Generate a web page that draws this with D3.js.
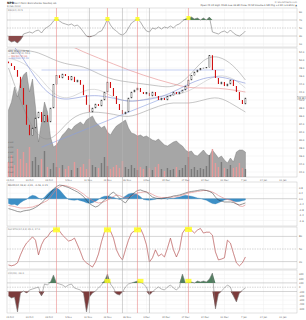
<!DOCTYPE html>
<html>
<head>
<meta charset="utf-8">
<script src="https://cdn.jsdelivr.net/npm/d3@7"></script>
<style>
  body { margin: 0; background: #fff; }
  svg { display: block; font-family: "DejaVu Sans", sans-serif; }
</style>
</head>
<body>
<svg id="chart" width="306" height="320"></svg>
<script>
// ---- data ----
var xLabels = ["15 Oct","22 Oct","29 Oct","5 Nov","12 Nov","19 Nov","26 Nov","3 Dec","10 Dec","17 Dec","24 Dec","31 Dec","7 Jan","14 Jan","21 Jan"];

var close = [49.2,48.5,47.5,45.8,43,38.8,33.8,31.2,33,35.5, 37,34.5,36.2,34.5,38,43.8,46.2,45.5,46.5,46,
             45,45.8,44.5,45,43.8,41.2,38.8,37,38,39, 38.5,40,42,44.5,43,41,39,37.5,36.5,37,
             40.5,42,42.5,43,42,41.5,41.8,41,42,41, 40,40.5,40,40.8,41.2,42,41.5,41.8,42.5,43.5,
             45,46.2,47,47.5,47.8,48,48.2,51.2,47.5,45.5, 44,44.5,43.5,44,45,43.5,42,40,39,40.5];

var volume = [6.7,7.5,9,8,9.5,10.2,10.5,8.5,9.8,7, 3.5,5.5,7.5,6.5,4,3,3.2,3.7,4.2,4.5,
              4.9,4.7,5.1,5.3,5.5,5.2,5.7,5.9,6.1,5.5, 5.2,4.9,5.1,4.5,4.2,4.7,5.1,5.3,5.5,5.7,
              4.9,4.4,4.3,4.1,4.2,4.0,4.1,3.9,3.7,3.6, 3.8,3.5,3.2,3.1,3.3,3.5,3.6,3.3,3.1,2.7,
              2.5,2.6,2.2,2.1,2.4,2.7,2.3,2.1,2.7,2.3, 1.9,2.1,1.7,1.4,1.9,1.5,2.5,2.7,2.7,2.5];

var dailyVol = [1.5,2.2,1.2,2.8,1.8,2.5,1.4,3.0,1.6,2.0, 1.2,1.8,2.6,1.0,0.8,1.4,1.0,0.9,1.2,0.8,
                1.1,0.7,1.5,0.9,1.0,1.3,0.8,1.8,1.2,1.0, 0.9,1.4,2.0,1.1,0.8,1.0,1.2,0.9,1.6,1.0,
                0.8,1.2,0.9,0.7,1.0,0.8,1.1,0.9,0.7,1.0, 1.3,0.8,0.6,0.9,0.7,0.8,1.0,0.7,0.9,1.2,
                2.0,0.8,1.0,0.7,0.9,0.8,1.1,2.2,2.8,1.4, 1.0,1.5,0.9,0.8,1.2,0.9,1.0,1.4,0.9,0.8];

// smooth overlays, given at every 5th bar
var knotIdx = [0,5,10,15,20,25,30,35,40,45,50,55,60,65,70,75,79];
var bbUpper = [52.5,52.5,52,50,48.8,48.5,46.5,45,44.5,44,43.5,43,45.5,50.5,51.2,48.8,45];
var bbMid   = [50.5,49.5,46.2,41.2,40,42.5,43,40.5,39.5,40,41,41.2,42,44.5,46.5,45.5,43];
var bbLower = [48,37.5,30,30,35,37,37,36.5,35.5,37,38.5,39.5,39,40,41,38.8,37];
var maBlue  = [55,50.5,44,40.5,40,41,41.2,40.5,39.5,40,40.5,42,44,45.5,46,45,44.2];
var maRed   = [60,58.5,57,55.5,53.8,52,50.5,49,47.5,46.2,45,44,43,43,43,42.5,42];
var trendIdx = [11, 60], trendVal = [28.2, 43];
var levelIdx = [11, 72], levelVal = [47.5, 47.5];

var rsi = [20,15,17.5,12.5,20,35,37.5,40,37.5,42.5, 45,37.5,47.5,52.5,57.5,67.5,72.5,67.5,62.5,60,
           57.5,60,55,57.5,50,40,30,27.5,30,32.5, 40,42.5,55,72.5,57.5,47.5,42.5,35,32.5,37.5,
           50,62.5,67.5,72.5,65,52.5,42.5,40,50,47.5, 52.5,47.5,52.5,50,55,50,57.5,60,67.5,72.5,
           75,77.5,72.5,75,70,75,70,77.5,40,37.5, 35,40,42.5,37.5,45,37.5,32.5,30,35,42.5];

var macd = [-0.72,-0.79,-0.86,-0.94,-0.97,-0.9,-0.86,-0.83,-0.75,-0.64, -0.5,-0.31,-0.1,0.16,0.42,0.71,0.89,1,0.97,0.89,
            0.82,0.71,0.6,0.49,0.34,0.16,-0.1,-0.35,-0.5,-0.61, -0.53,-0.31,-0.1,0.09,0.34,0.49,0.27,0.05,-0.17,-0.31,
            -0.02,0.27,0.45,0.6,0.64,0.56,0.49,0.31,0.12,0.05, 0.01,0.01,0.05,0.09,0.12,0.2,0.23,0.27,0.34,0.42,
            0.49,0.53,0.56,0.6,0.64,0.64,0.6,0.53,0.42,0.12, -0.1,-0.17,-0.24,-0.24,-0.24,-0.28,-0.39,-0.46,-0.39,-0.31];
var signal = [-0.5,-0.53,-0.57,-0.64,-0.68,-0.68,-0.67,-0.64,-0.61,-0.53, -0.46,-0.35,-0.24,-0.13,0.12,0.42,0.71,0.86,0.97,0.97,
              0.89,0.82,0.75,0.64,0.49,0.34,0.16,0.01,-0.13,-0.24, -0.31,-0.28,-0.21,-0.1,0.01,0.16,0.27,0.23,0.12,0.05,
              0.09,0.2,0.31,0.42,0.45,0.49,0.49,0.42,0.31,0.2, 0.12,0.09,0.09,0.09,0.12,0.12,0.16,0.2,0.27,0.34,
              0.42,0.45,0.49,0.53,0.56,0.6,0.6,0.56,0.49,0.38, 0.23,0.12,0.01,-0.06,-0.1,-0.21,-0.35,-0.53,-0.57,-0.46];
var hist = [-0.35,-0.45,-0.4,-0.5,-0.3,-0.15,-0.05,0.15,0.25,0.2, 0.05,-0.05,0.1,0.35,0.55,0.7,0.8,0.65,0.4,0.15,
            -0.05,-0.1,-0.12,-0.08,-0.15,-0.2,-0.3,-0.35,-0.3,-0.2, -0.05,0.1,0.18,0.2,0.15,0.1,0.02,-0.05,0.05,0.2,
            0.35,0.4,0.38,0.3,0.15,-0.05,-0.1,-0.12,-0.08,-0.04, 0.03,-0.03,0.05,-0.04,0.04,0.02,0.08,0.12,0.2,0.25,
            0.22,0.18,0.12,0.06,0.02,-0.05,-0.12,-0.25,-0.35,-0.38, -0.3,-0.2,-0.1,-0.05,-0.1,-0.18,-0.22,-0.2,-0.15,-0.1];

var stoch = [12,10,12,17,36,52,64,71,79,71, 36,60,74,79,90,95,98,93,83,76,
             69,71,76,60,43,24,17,12,7,19, 38,67,90,98,93,76,48,33,24,48,
             71,88,93,98,99,83,60,19,29,48, 33,38,31,52,76,48,31,48,88,98,
             99,95,88,95,99,88,90,90,83,43, 24,26,29,71,64,40,17,10,17,31];

var cci = [-205,-251,-228,-577,-135,-88,-135,-65,-42,-19, 5,-205,74,51,121,284,98,74,51,5,
           51,74,-19,-42,-65,-135,-577,-228,-135,-88, -19,51,144,307,74,-19,-158,-181,-112,5,
           74,98,121,144,121,74,5,-181,-112,-42, 5,-42,-65,5,51,-19,-65,5,307,98,
           121,121,98,144,121,144,121,191,330,-507, -158,-88,-19,51,5,-205,-344,-135,-65,-19];

var signalIdx = [16, 33, 43, 60];   // red verticals + yellow marks
var grayIdx = [27, 38, 47];
var cciMarkIdx = [33, 44, 60];

// ---- layout ----
var svg = d3.select('#chart');
var L = 7, R = 297;
var x = d3.scaleLinear().domain([-0.5, 96.2]).range([L, R]);
var idx = d3.range(close.length);

var panels = [
  { top: 8, bottom: 47 },
  { top: 48, bottom: 177 },
  { top: 182, bottom: 226 },
  { top: 227, bottom: 269 },
  { top: 270, bottom: 313 }
];

var defs = svg.append('defs');
panels.forEach(function(p, k) {
  defs.append('clipPath').attr('id', 'clip' + k)
    .append('rect').attr('x', L).attr('y', p.top).attr('width', R - L).attr('height', p.bottom - p.top);
});

function label(t, px, py, opts) {
  opts = opts || {};
  return svg.append('text').attr('x', px).attr('y', py).text(t)
    .attr('font-size', opts.size || 2.7)
    .attr('fill', opts.fill || '#555')
    .attr('font-weight', opts.bold ? 'bold' : null)
    .attr('text-anchor', opts.anchor || 'start');
}

function hline(g, y, color, dash) {
  g.append('line').attr('x1', L).attr('x2', R).attr('y1', y).attr('y2', y)
    .attr('stroke', color).attr('stroke-width', 0.5)
    .attr('stroke-dasharray', dash ? '1.5,1' : null);
}

// panel frames and vertical grid
var xTickPos = xLabels.map(function(d, k) { return 0.5 + 6.5 * k; });
panels.forEach(function(p) {
  svg.append('rect').attr('x', L).attr('y', p.top).attr('width', R - L).attr('height', p.bottom - p.top)
    .attr('fill', '#fff').attr('stroke', '#c4c4c4').attr('stroke-width', 0.5);
  xTickPos.forEach(function(t) {
    svg.append('line').attr('x1', x(t)).attr('x2', x(t)).attr('y1', p.top).attr('y2', p.bottom)
      .attr('stroke', '#ececec').attr('stroke-width', 0.5);
  });
});

// ---- panel 1: RSI ----
var yR = d3.scaleLinear().domain([0, 100]).range([48, 8]);
var g1 = svg.append('g').attr('clip-path', 'url(#clip0)');
[90, 10].forEach(function(v) { hline(g1, yR(v), '#eaeaea'); });
hline(g1, yR(70), '#aaa'); hline(g1, yR(30), '#aaa'); hline(g1, yR(50), '#aaa', true);
g1.append('path').datum(idx).attr('fill', '#8a4a4a')
  .attr('d', d3.area().x(function(i) { return x(i); }).y0(yR(30)).y1(function(i) { return yR(Math.min(rsi[i], 30)); }));
g1.append('path').datum(idx).attr('fill', '#4f7f5a')
  .attr('d', d3.area().x(function(i) { return x(i); }).y0(yR(70)).y1(function(i) { return yR(Math.max(rsi[i], 70)); }));
g1.append('path').datum(idx).attr('fill', 'none').attr('stroke', '#7a7a7a').attr('stroke-width', 0.6)
  .attr('d', d3.line().x(function(i) { return x(i); }).y(function(i) { return yR(rsi[i]); }));
[90, 70, 50, 30, 10].forEach(function(v) { label(v, 299, yR(v) + 1, { size: 2.5 }); });

// ---- panel 2: price + volume ----
var yP = d3.scaleLinear().domain([20.75, 53]).range([177, 48]);
var yV = d3.scaleLinear().domain([0, 12]).range([177, 57]);
var g2 = svg.append('g').attr('clip-path', 'url(#clip1)');
var priceTicks = d3.range(22, 53, 2);
priceTicks.forEach(function(v) { hline(g2, yP(v), '#efefef'); });

g2.append('path').datum(idx).attr('fill', '#a6a6a6').attr('stroke', '#707070').attr('stroke-width', 0.4)
  .attr('d', d3.area().x(function(i) { return x(i); }).y0(yV(0)).y1(function(i) { return yV(volume[i]); }));

g2.selectAll('.vbar').data(idx).enter().append('rect')
  .attr('x', function(i) { return x(i) - 0.7; })
  .attr('width', 1.4)
  .attr('y', function(i) { return yV(dailyVol[i]); })
  .attr('height', function(i) { return yV(0) - yV(dailyVol[i]); })
  .attr('fill', function(i) { return i > 0 && close[i] >= close[i - 1] ? '#7a7a7a' : '#e59a9a'; });

function knotLine(vals, color, w) {
  g2.append('path').datum(knotIdx).attr('fill', 'none').attr('stroke', color).attr('stroke-width', w)
    .attr('d', d3.line().curve(d3.curveBasis)
      .x(function(i) { return x(i); })
      .y(function(i, k) { return yP(vals[k]); }));
}
knotLine(bbUpper, '#8c8c8c', 0.5);
knotLine(bbLower, '#8c8c8c', 0.5);
knotLine(bbMid, '#b8b8b8', 0.5);
knotLine(maRed, '#e58a8a', 0.6);
knotLine(maBlue, '#7d8fd6', 0.6);

g2.append('line').attr('x1', x(trendIdx[0])).attr('x2', x(trendIdx[1]))
  .attr('y1', yP(trendVal[0])).attr('y2', yP(trendVal[1]))
  .attr('stroke', '#8aa0e0').attr('stroke-width', 0.6);
g2.append('line').attr('x1', x(levelIdx[0])).attr('x2', x(levelIdx[1]))
  .attr('y1', yP(levelVal[0])).attr('y2', yP(levelVal[1]))
  .attr('stroke', '#9db0ea').attr('stroke-width', 0.6);

// candles: body from previous close to close (up = hollow black, down = red)
function openOf(i) { return i > 0 ? close[i - 1] : close[0] + 0.4; }
g2.selectAll('.candle').data(idx).enter().append('rect')
  .attr('x', function(i) { return x(i) - 0.55; })
  .attr('width', 1.1)
  .attr('y', function(i) { return yP(Math.max(openOf(i), close[i])); })
  .attr('height', function(i) { return Math.max(0.8, Math.abs(yP(openOf(i)) - yP(close[i]))); })
  .attr('fill', function(i) { return close[i] >= openOf(i) ? '#fff' : '#d01010'; })
  .attr('stroke', function(i) { return close[i] >= openOf(i) ? '#222' : 'none'; })
  .attr('stroke-width', 0.35);

priceTicks.forEach(function(v) { label(v.toFixed(1), 299, yP(v) + 1, { size: 2.4 }); });
[0.5, 1, 1.5, 2, 2.5, 3, 3.5].forEach(function(v) { label(v.toFixed(1) + 'M', 8, yV(v) + 1, { size: 2.2, fill: '#666' }); });

// last value tag
svg.append('rect').attr('x', 297.5).attr('y', yP(close[79]) - 1.6).attr('width', 8).attr('height', 3.2)
  .attr('fill', '#fff').attr('stroke', '#888').attr('stroke-width', 0.3);
label(close[79].toFixed(2), 298, yP(close[79]) + 0.9, { size: 2.3, fill: '#222' });

// legend
label('NPR (Daily) 40.50', 8, 51.5, { size: 2.4, fill: '#444' });
label('\u2014 BB(20,2.0) 43.0', 8, 54, { size: 2.4, fill: '#777' });
label('\u2014 MA(50) 42.00', 8, 56.5, { size: 2.4, fill: '#d06060' });
label('\u2014 MA(200) 44.20', 8, 59, { size: 2.4, fill: '#6a7fd0' });

// ---- panel 3: MACD ----
var yM = d3.scaleLinear().domain([-2, 1.15]).range([226, 183]);
var g3 = svg.append('g').attr('clip-path', 'url(#clip2)');
[-1.6, -1.2, -0.8, -0.4, 0.4, 0.8].forEach(function(v) { hline(g3, yM(v), '#efefef'); });
hline(g3, yM(0), '#a8a8a8');
g3.append('path').datum(idx).attr('fill', '#3d8fc6').attr('stroke', '#2f7fb5').attr('stroke-width', 0.3)
  .attr('d', d3.area().x(function(i) { return x(i); }).y0(yM(0)).y1(function(i) { return yM(hist[i]); }));
g3.append('path').datum(idx).attr('fill', 'none').attr('stroke', '#e08080').attr('stroke-width', 0.6)
  .attr('d', d3.line().x(function(i) { return x(i); }).y(function(i) { return yM(signal[i]); }));
g3.append('path').datum(idx).attr('fill', 'none').attr('stroke', '#333').attr('stroke-width', 0.5)
  .attr('d', d3.line().x(function(i) { return x(i); }).y(function(i) { return yM(macd[i]); }));
[-1.6, -1.2, -0.8, -0.4, 0, 0.4, 0.8].forEach(function(v) { label(v.toFixed(1), 299, yM(v) + 1, { size: 2.4 }); });
label('MACD(12,26,9) -0.31, -0.46, 0.15', 8, 185.5, { size: 2.4, fill: '#555' });

// ---- panel 4: stochastics ----
var yS = d3.scaleLinear().domain([0, 100]).range([270, 228]);
var g4 = svg.append('g').attr('clip-path', 'url(#clip3)');
hline(g4, yS(80), '#aaa'); hline(g4, yS(20), '#aaa'); hline(g4, yS(50), '#aaa', true);
var sLine = d3.line().x(function(i) { return x(i); }).y(function(i) { return yS(stoch[i]); });
g4.append('path').datum(idx).attr('fill', 'none').attr('stroke', '#f6cccc').attr('stroke-width', 0.9).attr('d', sLine);
g4.append('path').datum(idx).attr('fill', 'none').attr('stroke', '#9a3d3d').attr('stroke-width', 0.45).attr('d', sLine);
[80, 50, 20].forEach(function(v) { label(v, 299, yS(v) + 1, { size: 2.5 }); });
label('Full STO(14,3,3) 31.0, 17.0', 8, 230, { size: 2.4, fill: '#777' });

// ---- panel 5: CCI ----
var yC = d3.scaleLinear().domain([-600, 400]).range([313, 270]);
var g5 = svg.append('g').attr('clip-path', 'url(#clip4)');
[300, 200, -200, -300, -400, -500].forEach(function(v) { hline(g5, yC(v), '#efefef'); });
hline(g5, yC(100), '#aaa'); hline(g5, yC(-100), '#aaa'); hline(g5, yC(0), '#aaa', true);
g5.append('path').datum(idx).attr('fill', '#4f7f5f')
  .attr('d', d3.area().x(function(i) { return x(i); }).y0(yC(100)).y1(function(i) { return yC(Math.max(cci[i], 100)); }));
g5.append('path').datum(idx).attr('fill', '#7c3b3b')
  .attr('d', d3.area().x(function(i) { return x(i); }).y0(yC(-100)).y1(function(i) { return yC(Math.min(cci[i], -100)); }));
g5.append('path').datum(idx).attr('fill', 'none').attr('stroke', '#7a7a7a').attr('stroke-width', 0.55)
  .attr('d', d3.line().x(function(i) { return x(i); }).y(function(i) { return yC(cci[i]); }));
[300, 200, 100, 0, -100, -200, -300, -400, -500].forEach(function(v) { label(v, 299, yC(v) + 1, { size: 2.3 }); });
label('CCI(20) -19.0', 8, 273.5, { size: 2.4, fill: '#777' });

// ---- event markers ----
grayIdx.forEach(function(i) {
  svg.append('line').attr('x1', x(i)).attr('x2', x(i)).attr('y1', 8).attr('y2', 313)
    .attr('stroke', '#b4b4b4').attr('stroke-width', 0.6);
});
signalIdx.forEach(function(i) {
  svg.append('line').attr('x1', x(i)).attr('x2', x(i)).attr('y1', 8).attr('y2', 313)
    .attr('stroke', '#ea8c8c').attr('stroke-width', 0.6);
});
signalIdx.forEach(function(i) {
  svg.append('rect').attr('x', x(i) - 2).attr('y', yR(rsi[i]) - 2).attr('width', 4).attr('height', 4)
    .attr('fill', '#ffff22').attr('opacity', 0.9);
  svg.append('rect').attr('x', x(i) - 3.5).attr('y', yS(stoch[i]) - 1.5).attr('width', 7).attr('height', 5)
    .attr('fill', '#ffff22').attr('opacity', 0.85);
});
cciMarkIdx.forEach(function(i) {
  svg.append('rect').attr('x', x(i) - 3).attr('y', yC(100) - 4).attr('width', 6).attr('height', 4)
    .attr('fill', '#ffff22').attr('opacity', 0.85);
});

// ---- x axis labels ----
xTickPos.forEach(function(t, k) {
  label(xLabels[k], x(t), 180.6, { size: 2.3, fill: '#666', anchor: 'middle' });
  label(xLabels[k], x(t), 317.5, { size: 2.3, fill: '#666', anchor: 'middle' });
});

// ---- titles ----
label('NPR', 7, 3.5, { size: 3, fill: '#222', bold: true });
label('Nat\'l Penn Bancshares  Nasdaq GS', 14, 3.5, { size: 2.5, fill: '#666' });
label('8-Feb-2013', 7, 6.6, { size: 2.4, fill: '#777' });
label('\u00a9 StockCharts.com', 297, 3, { size: 2.3, fill: '#777', anchor: 'end' });
label('Open 40.10 High 40.85 Low 39.80 Close 40.50 Volume 2.5M Chg +1.50 (+3.85%) \u25b2', 297, 6.4, { size: 2.3, fill: '#444', anchor: 'end' });
label('RSI(14) 42.5', 8, 11, { size: 2.4, fill: '#777' });
</script>
</body>
</html>
